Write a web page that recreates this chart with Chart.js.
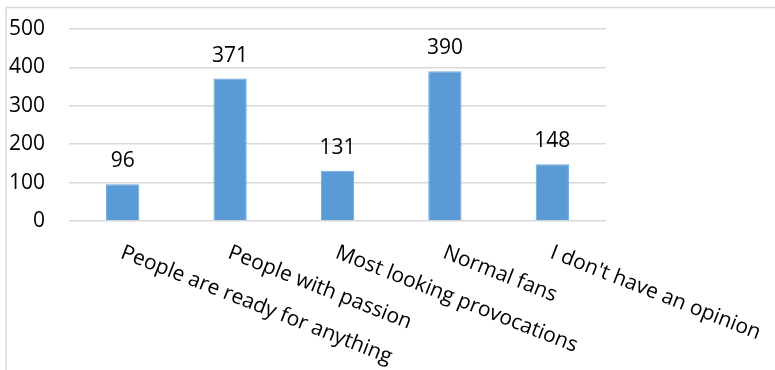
<!DOCTYPE html>
<html>
<head>
<meta charset="utf-8">
<script src="https://cdn.jsdelivr.net/npm/chart.js@4"></script>
<style>
html,body{margin:0;padding:0;background:#fff;}
#wrap{width:775px;height:370px;position:relative;}
</style>
</head>
<body>
<div id="wrap"><canvas id="c" width="775" height="370"></canvas></div>
<script>
const categories = ["People are ready for anything","People with passion","Most looking provocations","Normal fans","I don't have an opinion"];
const values = [96, 371, 131, 390, 148];
const yTicks = [0, 100, 200, 300, 400, 500];

const FONT = "'Open Sans', sans-serif";

const framePlugin = {
  id: 'frame',
  beforeDraw(chart) {
    const ctx = chart.ctx;
    ctx.save();
    ctx.fillStyle = '#fff';
    ctx.fillRect(0, 0, chart.width, chart.height);
    ctx.strokeStyle = '#d9d9d9';
    ctx.lineWidth = 1.5;
    ctx.strokeRect(6, 7.5, 900, 500);
    ctx.restore();
  }
};

const labelPlugin = {
  id: 'labels',
  afterDraw(chart) {
    const ctx = chart.ctx;
    const xs = chart.scales.x;
    const meta = chart.getDatasetMeta(0);
    ctx.save();
    ctx.fillStyle = '#000';
    ctx.font = '21px ' + FONT;
    ctx.textAlign = 'center';
    ctx.textBaseline = 'alphabetic';
    meta.data.forEach((bar, i) => {
      ctx.fillText(String(values[i]), bar.x, bar.y - 17);
    });
    const angle = 21.5 * Math.PI / 180;
    categories.forEach((lab, i) => {
      const x = xs.getPixelForValue(i);
      const y = xs.top + 20;
      ctx.save();
      ctx.translate(x, y);
      ctx.rotate(angle);
      ctx.textAlign = 'left';
      ctx.textBaseline = 'top';
      ctx.fillText(lab, 3, 0);
      ctx.restore();
    });
    ctx.restore();
  }
};

new Chart(document.getElementById('c'), {
  type: 'bar',
  data: {
    labels: categories,
    datasets: [{
      data: values,
      backgroundColor: '#5b9bd5',
      borderColor: '#6aa5db',
      borderWidth: 1,
      categoryPercentage: 1,
      barPercentage: 0.31
    }]
  },
  options: {
    responsive: false,
    animation: false,
    devicePixelRatio: 1,
    layout: { padding: { top: 29, right: 169, left: 0, bottom: 0 } },
    plugins: { legend: { display: false }, tooltip: { enabled: false } },
    scales: {
      x: {
        grid: { display: false, drawTicks: false },
        border: { display: false },
        ticks: { display: false },
        afterFit(s) { s.height = 149; s.paddingLeft = 0; s.paddingRight = 0; }
      },
      y: {
        min: 0, max: 500,
        afterBuildTicks(s) { s.ticks = yTicks.map(v => ({ value: v })); },
        grid: { color: '#d9d9d9', lineWidth: 1.5, drawTicks: false },
        border: { display: false },
        ticks: { color: '#000', font: { family: FONT, size: 21 }, padding: 24 },
        afterFit(s) { s.width = 69; s.paddingTop = 0; s.paddingBottom = 0; }
      }
    }
  },
  plugins: [framePlugin, labelPlugin]
});
</script>
</body>
</html>
